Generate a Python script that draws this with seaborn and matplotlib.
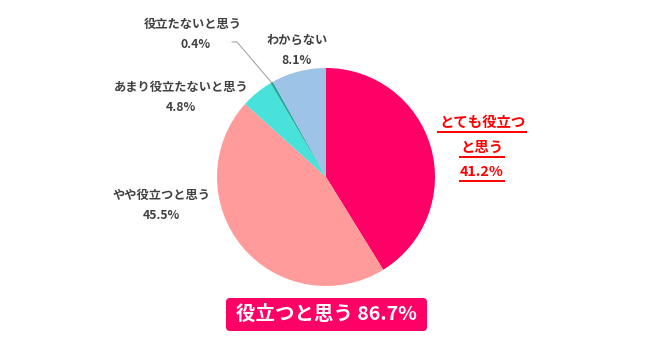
import matplotlib
matplotlib.use("Agg")
import matplotlib.pyplot as plt
from matplotlib.patches import FancyBboxPatch
import seaborn as sns

sns.set_style("white")
plt.rcParams["font.family"] = ["Noto Sans CJK JP", "DejaVu Sans"]

# Survey answers, clockwise from 12 o'clock
categories = ["とても役立つと思う", "やや役立つと思う", "あまり役立たないと思う", "役立たないと思う", "わからない"]
shares = [41.2, 45.5, 4.8, 0.4, 8.1]
colors = ["#FF0066", "#FF9B9B", "#48E2DA", "#23A69C", "#9DC3E6"]
positive_total = 86.7
positive_label = "役立つと思う"

W, H = 650, 345
fig = plt.figure(figsize=(W / 100, H / 100), dpi=100)
ax = fig.add_axes([0, 0, 1, 1])

cx, cy, r = 326, 177, 109
# y axis runs downward (pixel-like), so start at -90 and go counterclockwise
# in data terms, which reads as clockwise from 12 o'clock on screen
ax.pie(shares, colors=colors, startangle=-90, counterclock=True,
       center=(cx, cy), radius=r, frame=True,
       wedgeprops=dict(linewidth=0, edgecolor="none"))
ax.set_xlim(0, W)
ax.set_ylim(H, 0)
ax.set_aspect("equal")
ax.axis("off")

gray = "#404040"
fs = 8.8


def two_line(x, y, name, value, px=None):
    ax.text(x, y, name, ha="center", va="center", fontsize=fs, fontweight="bold", color=gray)
    ax.text(x if px is None else px, y + 20.5, f"{value}%", ha="center", va="center",
            fontsize=fs, fontweight="bold", color=gray)


two_line(161.5, 195, categories[1], shares[1])
two_line(181, 87, categories[2], shares[2])
two_line(193, 24, categories[3], shares[3], px=196)
two_line(297, 40, categories[4], shares[4])

# leader line for the thin slice
ax.plot([232, 237, 272], [42, 42, 83], color="#A6A6A6", lw=0.8)

# highlighted label for the largest positive answer, underlined line by line
red = "#FF0000"
red_lines = [categories[0][:6], categories[0][6:], f"{shares[0]}%"]
red_y = [123, 148, 172]
fig.canvas.draw()
renderer = fig.canvas.get_renderer()
inv = ax.transData.inverted()
for s, y in zip(red_lines, red_y):
    t = ax.text(482, y, s, ha="center", va="center", fontsize=10.4, fontweight="bold", color=red)
    bb = t.get_window_extent(renderer)
    (x0, _), (x1, _) = inv.transform([(bb.x0, bb.y0), (bb.x1, bb.y1)])
    ax.plot([x0 - 1.5, x1 + 1.5], [y + 8.5, y + 8.5], color=red, lw=1.4, solid_capstyle="butt")

# summary badge
box = FancyBboxPatch((226, 298), 201, 33, boxstyle="round,pad=0,rounding_size=4",
                     facecolor="#FF0066", edgecolor="none")
ax.add_patch(box)
ax.text(326.5, 314.5, f"{positive_label} {positive_total}%", ha="center", va="center",
        fontsize=14, fontweight="bold", color="white")

fig.savefig("out.png", dpi=100)
